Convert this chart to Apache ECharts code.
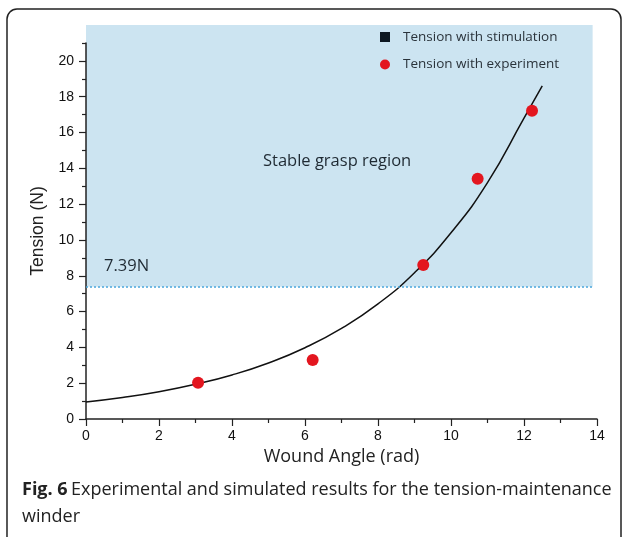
<!DOCTYPE html>
<html>
<head>
<meta charset="utf-8">
<script src="https://cdn.jsdelivr.net/npm/echarts@6/dist/echarts.min.js"></script>
<style>
  html, body { margin: 0; padding: 0; background: #fff; }
  #chart { width: 624px; height: 537px; }
</style>
</head>
<body>
<div id="chart"></div>
<script>
// simulated curve
const curveAngle = [0, 1, 2, 3, 4, 5, 6, 7, 8, 9, 10, 11, 12, 12.5];
const curveTension = [0.95, 1.2, 1.52, 1.94, 2.46, 3.13, 3.98, 5.06, 6.43, 8.17, 10.4, 13.2, 16.8, 18.6];
// experiment points
const expAngle = [3.07, 6.21, 9.24, 10.73, 12.22];
const expTension = [2.03, 3.30, 8.60, 13.42, 17.22];
// stable region
const threshold = 7.39;
const regionRight = 13.88;
const regionTop = 22;
const evenTicks = [0, 2, 4, 6, 8, 10, 12, 14, 16, 18, 20];
const oddTicks = [1, 3, 5, 7, 9, 11, 13, 15, 17, 19, 21];

let chart = echarts.init(document.getElementById('chart'));

const sansUI = '"Open Sans", "Noto Sans", sans-serif';
const arial = '"Liberation Sans", Arial, sans-serif';

chart.setOption({
  animation: false,
  grid: { left: 86, right: 27, top: 43, bottom: 118 },
  legend: {
    orient: 'vertical',
    left: 380,
    top: 30,
    padding: 0,
    itemGap: 13.5,
    itemWidth: 10,
    itemHeight: 10,
    textStyle: { fontFamily: sansUI, fontSize: 13.5, color: '#2a333b', padding: [0, 0, 0, 8] },
    data: [
      { name: 'Tension with stimulation', icon: 'rect' },
      { name: 'Tension with experiment', icon: 'circle' }
    ]
  },
  xAxis: {
    type: 'value',
    min: 0, max: 14, interval: 2,
    name: 'Wound Angle (rad)',
    nameLocation: 'middle',
    nameGap: 29,
    nameTextStyle: { fontFamily: sansUI, fontSize: 18, color: '#222' },
    splitLine: { show: false },
    axisLine: { lineStyle: { color: '#222', width: 1.5 } },
    axisTick: { length: 7, lineStyle: { color: '#222', width: 1.2 } },
    minorTick: { show: true, splitNumber: 2, length: 4, lineStyle: { color: '#222', width: 1.2 } },
    axisLabel: { margin: 10, fontFamily: arial, fontSize: 14, color: '#111' }
  },
  yAxis: [
    {
      type: 'value',
      min: 0, max: 21, interval: 2,
      name: 'Tension (N)',
      nameLocation: 'middle',
      nameGap: 35,
      nameTextStyle: { fontFamily: arial, fontSize: 17.5, color: '#222' },
      splitLine: { show: false },
      axisLine: { lineStyle: { color: '#222', width: 1.5 } },
      axisTick: { length: 7, customValues: evenTicks, lineStyle: { color: '#222', width: 1.2 } },
      axisLabel: { margin: 12, customValues: evenTicks, fontFamily: arial, fontSize: 14, color: '#111' }
    },
    {
      type: 'value',
      position: 'left',
      min: 0, max: 21,
      splitLine: { show: false },
      axisLine: { show: false },
      axisTick: { length: 4, customValues: oddTicks, lineStyle: { color: '#222', width: 1.2 } },
      axisLabel: { show: false }
    }
  ],
  series: [
    {
      name: 'region',
      type: 'line',
      data: [],
      clip: false,
      z: 1,
      silent: true,
      markLine: {
        silent: true,
        symbol: 'none',
        label: { show: false },
        lineStyle: { color: '#4aa6dc', type: [2, 2], width: 1.5 },
        data: [[{ coord: [0, threshold] }, { coord: [regionRight, threshold] }]]
      }
    },
    {
      name: 'Tension with stimulation',
      type: 'line',
      smooth: true,
      showSymbol: false,
      z: 3,
      itemStyle: { color: '#0d1822' },
      lineStyle: { color: '#111', width: 1.5 },
      data: curveAngle.map((a, i) => [a, curveTension[i]])
    },
    {
      name: 'Tension with experiment',
      type: 'scatter',
      symbolSize: 12,
      z: 4,
      itemStyle: { color: '#e3161f', opacity: 1 },
      data: expAngle.map((a, i) => [a, expTension[i]])
    }
  ]
});

// shaded stable region goes above the axis top, so place it from data coords
let p0 = chart.convertToPixel({ gridIndex: 0 }, [0, threshold]);
let p1 = chart.convertToPixel({ gridIndex: 0 }, [regionRight, regionTop]);

chart.setOption({
  graphic: [
    {
      type: 'rect',
      z: 0,
      silent: true,
      shape: { x: p0[0], y: p1[1], width: p1[0] - p0[0], height: p0[1] - p1[1] },
      style: { fill: '#cce4f1' }
    },
    {
      type: 'rect',
      z: 0,
      shape: { x: 7, y: 9, width: 614, height: 560, r: 10 },
      style: { fill: 'none', stroke: '#222', lineWidth: 1.5 }
    },
    {
      type: 'text',
      z: 10,
      style: { x: 263, y: 161, verticalAlign: 'middle', text: 'Stable grasp region', fontFamily: sansUI, fontSize: 16.5, fill: '#1f2a33' }
    },
    {
      type: 'text',
      z: 10,
      style: { x: 104, y: 266, verticalAlign: 'middle', text: '7.39N', fontFamily: sansUI, fontSize: 16.5, fill: '#1f2a33' }
    },
    {
      type: 'text',
      z: 10,
      left: 22, top: 481,
      style: {
        rich: {
          b: { fontFamily: sansUI, fontSize: 18, fontWeight: 'bold', fill: '#222', lineHeight: 27 },
          n: { fontFamily: sansUI, fontSize: 18, fill: '#222', lineHeight: 27 }
        },
        text: '{b|Fig. 6} {n|Experimental and simulated results for the tension-maintenance}\n{n|winder}'
      }
    }
  ]
});
</script>
</body>
</html>
